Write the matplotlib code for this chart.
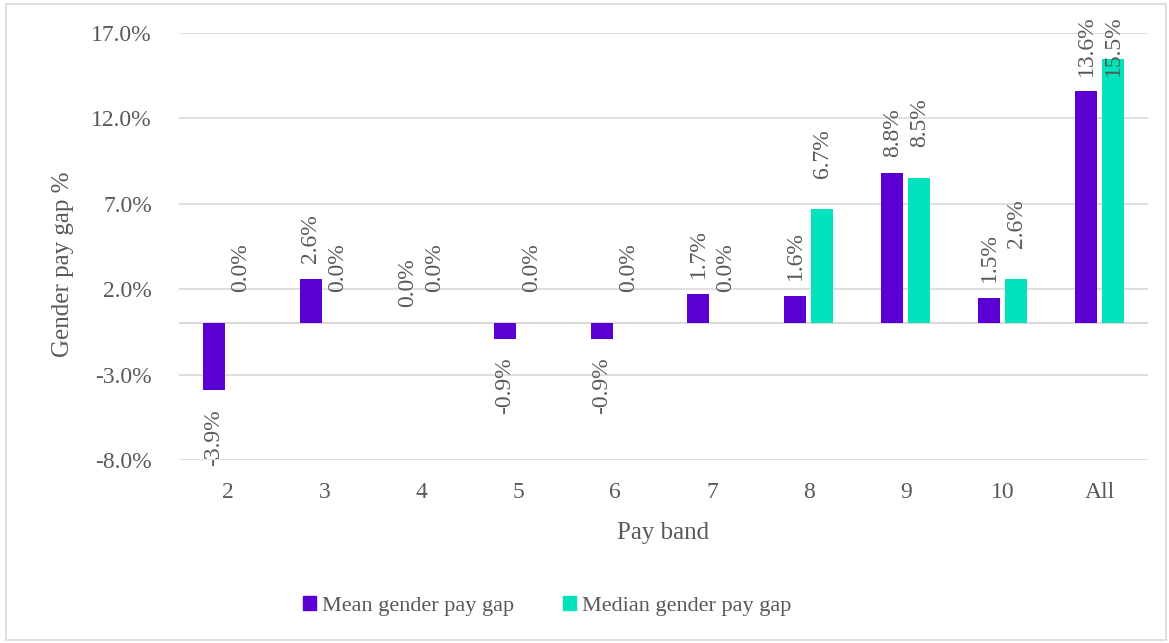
import matplotlib
matplotlib.use("Agg")
import matplotlib.pyplot as plt
import numpy as np
from matplotlib.patches import Rectangle

categories = ["2", "3", "4", "5", "6", "7", "8", "9", "10", "All"]
mean_gap = [-3.9, 2.6, 0.0, -0.9, -0.9, 1.7, 1.6, 8.8, 1.5, 13.6]
median_gap = [0.0, 0.0, 0.0, 0.0, 0.0, 0.0, 6.7, 8.5, 2.6, 15.5]
yticks = [-8.0, -3.0, 2.0, 7.0, 12.0, 17.0]

mean_color = "#5B00D2"
median_color = "#00E3BC"
text_color = "#595959"
grid_color = "#D9D9D9"
font = "Liberation Serif"

W, H = 1169, 643
fig = plt.figure(figsize=(W / 100, H / 100), dpi=100)
fig.patch.set_facecolor("white")
fig.add_artist(Rectangle((6 / W, 3 / H), 1160 / W, 636 / H, transform=fig.transFigure,
                         fill=False, edgecolor="#D9D9D9", linewidth=1.2))

ax = fig.add_axes([179 / W, 1 - 460 / H, (1148 - 179) / W, (460 - 33) / H])
x = np.arange(len(categories))
bw = 0.227
off = 0.139
ax.bar(x - off, mean_gap, bw, color=mean_color, linewidth=0, zorder=3)
ax.bar(x + off, median_gap, bw, color=median_color, linewidth=0, zorder=3)

ax.set_xlim(-0.5, len(categories) - 0.5)
ax.set_ylim(-8, 17)
ax.set_yticks(yticks)
ax.set_yticklabels([f"{v:.1f}%" for v in yticks])
ax.set_xticks(x)
ax.set_xticklabels(categories)
for s in ax.spines.values():
    s.set_visible(False)
ax.grid(axis="y", color=grid_color, linewidth=1.2, zorder=0)
ax.axhline(0, color=grid_color, linewidth=1.5, zorder=1)
ax.tick_params(length=0, labelsize=17, labelcolor=text_color, pad=19.5, axis="y")
ax.tick_params(length=0, labelsize=17, labelcolor=text_color, pad=16, axis="x")
for lab in ax.get_xticklabels() + ax.get_yticklabels():
    lab.set_fontfamily(font)

ax.set_ylabel("Gender pay gap %", fontsize=18, color=text_color, family=font)
ax.yaxis.set_label_coords((63 - 179) / 969, 1 - (264 - 33) / 427)
ax.set_xlabel("Pay band", fontsize=18, color=text_color, family=font)
ax.xaxis.set_label_coords(0.5, -(533 - 460) / 427)
ax.xaxis.label.set_va("center")
ax.yaxis.label.set_va("center")

texts = []
for vals, xs, gap in ((mean_gap, x - off, 16), (median_gap, x + off, 31)):
    for xi, v in zip(xs, vals):
        if v >= 0:
            t = ax.annotate(f"{v:.1f}%", (xi, v), xytext=(0, gap * 0.72), textcoords="offset points",
                            rotation=90, ha="center", va="bottom", fontsize=17,
                            color=text_color, family=font, zorder=4)
        else:
            t = ax.annotate(f"{v:.1f}%", (xi, v), xytext=(0, -19 * 0.72), textcoords="offset points",
                            rotation=90, ha="center", va="top", fontsize=17,
                            color=text_color, family=font, zorder=4)
        texts.append(t)

fig.canvas.draw()
r = fig.canvas.get_renderer()
top_limit = H - 15
for t in texts:
    bb = t.get_window_extent(r)
    if bb.y1 > top_limit:
        dx, dy = t.xyann
        t.xyann = (dx, dy - (bb.y1 - top_limit) * 0.72)

handles = [Rectangle((0, 0), 1, 1, color=mean_color), Rectangle((0, 0), 1, 1, color=median_color)]
leg = fig.legend(handles, ["Mean gender pay gap", "Median gender pay gap"], loc="center",
                 bbox_to_anchor=(547 / W, 1 - 606 / H), ncol=2, frameon=False,
                 prop={"family": font, "size": 16}, handlelength=0.6, handleheight=0.6,
                 handletextpad=0.25, columnspacing=2.2)
for t in leg.get_texts():
    t.set_color(text_color)

fig.savefig("out.png", dpi=100, facecolor="white")
